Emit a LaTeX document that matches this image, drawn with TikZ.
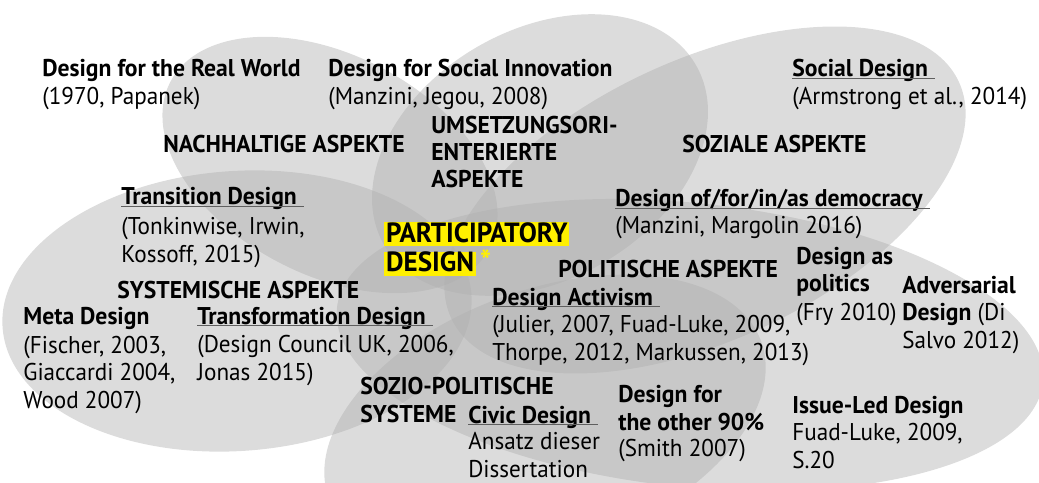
\documentclass[tikz,border=0pt]{standalone}
\usepackage{fontspec}
\setmainfont{PT Sans}[UprightFeatures={FakeStretch=0.955}, BoldFeatures={FakeStretch=0.975}]
\usetikzlibrary{positioning}
\definecolor{petalgray}{RGB}{174,174,174}
\definecolor{hlyellow}{RGB}{255,240,0}
\definecolor{ulgray}{RGB}{95,95,95}

\tikzset{
  petal/.style={fill=petalgray, fill opacity=0.43},
  ttl/.style={font=\fontsize{13.8}{15.65}\selectfont\bfseries, inner sep=0pt, anchor=base west},
  ref/.style={font=\fontsize{13.8}{15.65}\selectfont, inner sep=0pt, align=left, anchor=base west},
  aspekt/.style={ttl, align=left},
  hl/.style={ttl, font=\fontsize{15.8}{18}\selectfont\bfseries, fill=hlyellow, inner xsep=1pt, inner ysep=0pt, text height=11.6pt, text depth=2.2pt},
  uline/.style={draw=ulgray, line width=0.6pt},
}

\begin{document}
\begin{tikzpicture}[x=0.02cm, y=-0.02cm]
\useasboundingbox (0,0) rectangle (1039,483);

% Blaetter
\begin{scope}
  \clip (0,0) rectangle (1039,483);
  \fill[petal] (330,165) circle[x radius=180, y radius=110, rotate=-27.5]; % nachhaltig
  \fill[petal] (540,155) circle[x radius=180, y radius=125, rotate=30];    % umsetzung
  \fill[petal] (705,200) circle[x radius=280, y radius=140, rotate=25];    % sozial
  \fill[petal] (237,311) circle[x radius=235, y radius=140, rotate=4];     % systemisch
  \fill[petal] (690,345) circle[x radius=355, y radius=142, rotate=-6];    % politisch
  \fill[petal] (545,420) circle[x radius=230, y radius=130, rotate=20];    % sozio-politisch
\end{scope}

% Aspekte (base = letzte Zeile)
\node[aspekt] (nach) at (163,153) {NACHHALTIGE ASPEKTE};
\node[aspekt] (ums) at (431,188) {UMSETZUNGSORI-\\ENTERIERTE\\ASPEKTE};
\node[aspekt] (soz) at (682,153) {SOZIALE ASPEKTE};
\node[aspekt] (pol) at (558,277) {POLITISCHE ASPEKTE};
\node[aspekt] (sys) at (117,298) {SYSTEMISCHE ASPEKTE};
\node[aspekt] (sozpol) at (360,422) {SOZIO-POLITISCHE\\SYSTEME};

% Mitte
\node[hl] (pd1) at (384,242) {PARTICIPATORY};
\node[hl] (pd2) at (384,272) {DESIGN};
\node[ttl, text=hlyellow, font=\fontsize{17}{17}\selectfont\bfseries] (star) at ([xshift=2pt]pd2.base east) {*};

% Ansaetze
\node[ttl] (rwt) at (42,77) {Design for the Real World};
\node[ref] (rwr) at (42,105) {(1970, Papanek)};

\node[ttl] (sit) at (328,77) {Design for Social Innovation};
\node[ref] (sir) at (328,105) {(Manzini, Jegou, 2008)};

\node[ttl] (sdt) at (792,77) {Social Design};
\node[ref] (sdr) at (792,105) {(Armstrong et al., 2014)};

\node[ttl] (trt) at (121,205) {Transition Design};
\node[ref] (trr) at (121,262) {(Tonkinwise, Irwin,\\Kossoff, 2015)};

\node[ttl] (dmt) at (615,207) {Design of/for/in/as democracy};
\node[ref] (dmr) at (615,234) {(Manzini, Margolin 2016)};

\node[ttl, align=left] (dpt) at (796,292) {Design as\\politics};
\node[ref] (dpr) at (796,320) {(Fry 2010)};

\node[ref] (adv) at (902,348) {\bfseries Adversarial\\{\bfseries Design} (Di\\Salvo 2012)};

\node[ttl] (mdt) at (23,324) {Meta Design};
\node[ref] (mdr) at (23,408) {(Fischer, 2003,\\Giaccardi 2004,\\Wood 2007)};

\node[ttl] (tft) at (197,324) {Transformation Design};
\node[ref] (tfr) at (197,380) {(Design Council UK, 2006,\\Jonas 2015)};

\node[ttl] (act) at (492,305) {Design Activism};
\node[ref] (acr) at (492,360) {(Julier, 2007, Fuad-Luke, 2009,\\Thorpe, 2012, Markussen, 2013)};

\node[ttl] (cvt) at (468,423) {Civic Design};
\node[ref] (cvr) at (468,477) {Ansatz dieser\\Dissertation};

\node[ttl, align=left] (o90) at (618,430) {Design for\\the other 90\%};
\node[ref] (o9r) at (618,456) {(Smith 2007)};

\node[ttl] (ilt) at (792,413) {Issue-Led Design};
\node[ref] (ilr) at (792,468) {Fuad-Luke, 2009,\\S.20};

% Unterstreichungen
\foreach \t in {sdt,trt,dmt,tft,act,cvt}
  \draw[uline] ([yshift=-1pt]\t.base west) -- ([yshift=-1pt, xshift=4pt]\t.base east);
\end{tikzpicture}
\end{document}
